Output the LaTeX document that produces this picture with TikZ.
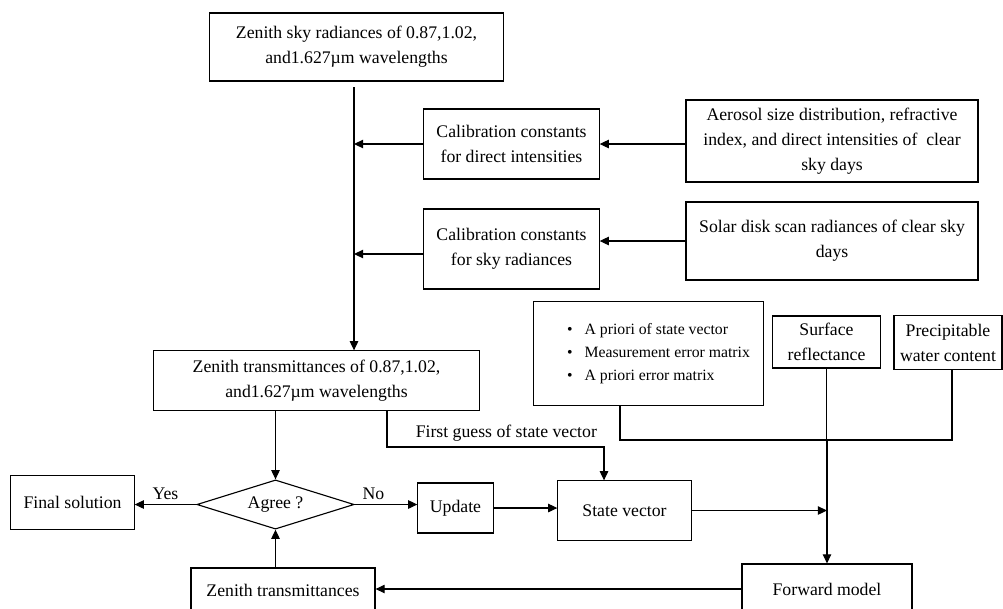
\documentclass[tikz,border=0pt]{standalone}
\usepackage{fontspec}
\setmainfont{Liberation Serif}
\usepackage{xcolor}
\definecolor{Black}{RGB}{0,0,0}
\definecolor{White}{RGB}{255,255,255}
\usetikzlibrary{arrows.meta, shapes.geometric}

\begin{document}
\begin{tikzpicture}[x=0.025cm, y=-0.025cm,
		font=\fontsize{12.6}{17.8}\selectfont,
		block/.style={draw=Black, line width=0.8pt, align=center, inner sep=0pt},
		decision/.style={draw=Black, line width=0.8pt, diamond, aspect=3.2, inner sep=0pt},
		flow/.style={-{Triangle[length=6.5pt, width=6pt]}, draw=Black, line width=0.75pt},
		link/.style={-, draw=Black, line width=0.75pt}]
		
		% Frame
		\useasboundingbox (0,0) rectangle (1003,608);
		\clip (0,0) rectangle (1003,608);
		
		% Blocks
		\node[block, minimum width=7.33cm, minimum height=1.7cm] (radiance) at (356.5,47) {Zenith sky radiances of 0.87,1.02,\\and1.627µm wavelengths};
		\node[block, minimum width=4.38cm, minimum height=1.75cm] (caldirect) at (511.5,144) {Calibration constants\\for direct intensities};
		\node[block, minimum width=4.38cm, minimum height=2cm] (calsky) at (511.5,249) {Calibration constants\\for sky radiances};
		\node[block, minimum width=7.3cm, minimum height=2.05cm] (aerosol) at (832,141) {Aerosol size distribution, refractive\\index, and direct intensities of\ \ clear\\sky days};
		\node[block, minimum width=7.3cm, minimum height=1.95cm] (solar) at (832,241) {Solar disk scan radiances of clear sky\\days};
		\node[block, minimum width=5.73cm, minimum height=2.58cm, align=left, font=\fontsize{11.2}{16.4}\selectfont] (apriori) at (648.5,353.5) {%
			\hspace*{0.5cm}\textbullet\hspace{0.3cm}A priori of state vector\\
			\hspace*{0.5cm}\textbullet\hspace{0.3cm}Measurement error matrix\\
			\hspace*{0.5cm}\textbullet\hspace{0.3cm}A priori error matrix};
		\node[block, minimum width=2.68cm, minimum height=1.3cm] (surface) at (826.5,342) {Surface\\reflectance};
		\node[block, minimum width=2.7cm, minimum height=1.33cm] (water) at (948,342.5) {Precipitable\\water content};
		\node[block, minimum width=8.13cm, minimum height=1.48cm] (transmit) at (316.5,380.5) {Zenith transmittances of 0.87,1.02,\\and1.627µm wavelengths};
		\node[decision, minimum width=3.93cm, minimum height=1.23cm] (agree) at (275.5,504.5) {Agree ?};
		\node[block, minimum width=3.08cm, minimum height=1.33cm] (final) at (72.5,502.5) {Final solution};
		\node[block, minimum width=1.88cm, minimum height=1.25cm] (update) at (455.5,508) {Update};
		\node[block, minimum width=3.33cm, minimum height=1.48cm] (state) at (624.5,510.5) {State vector};
		\node[block, minimum width=4.25cm, minimum height=1.25cm] (forward) at (827,589) {Forward model};
		\node[block, minimum width=4.6cm, minimum height=1.1cm] (zenith) at (283,590) {Zenith transmittances};
		
		% Calibration
		\coordinate (split) at (354,87);
		\coordinate (skyin) at ([yshift=-0.125cm]calsky.west);
		\draw[flow] (split) -- (split |- transmit.north);
		\draw[flow] (caldirect.west) -- (split |- caldirect.west);
		\draw[flow] (skyin) -- (split |- skyin);
		\draw[flow] (aerosol.west |- caldirect.east) -- (caldirect.east);
		\draw[flow] (solar.west) -- (calsky.east |- solar.west);
		
		% Retrieval loop
		\draw[flow] (transmit.south -| agree.north) -- (agree.north);
		\draw[flow] (agree.west) -- node[above] {Yes} (final.east |- agree.west);
		\draw[flow] (agree.east) -- node[above, pos=0.3] {No} (update.west |- agree.east);
		\draw[flow] (update.east) -- (state.west |- update.east);
		\draw[flow] (zenith.north -| agree.south) -- (agree.south);
		\draw[flow] (forward.west) -- (zenith.east |- forward.west);
		
		% First guess
		\coordinate (guessA) at (387,447);
		\coordinate (guessB) at (604,447);
		\draw[flow] (transmit.south -| guessA) -- (guessA) -- node[above, pos=0.55] {First guess of state vector} (guessB) -- (state.north -| guessB);
		
		% Model inputs
		\coordinate (mergeA) at (620,440);
		\coordinate (mergeB) at (952,440);
		\draw[link] (apriori.south -| mergeA) -- (mergeA) -- (mergeB) -- (water.south -| mergeB);
		\draw[link] (surface.south) -- (surface.south |- mergeA);
		\draw[flow] (forward.north |- mergeA) -- (forward.north);
		\draw[flow] (state.east) -- (state.east -| forward.north);
		
	\end{tikzpicture}
\end{document}
